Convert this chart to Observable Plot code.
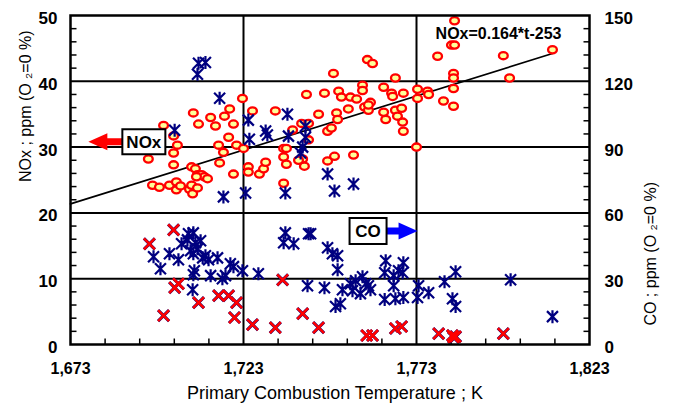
<!DOCTYPE html>
<html><head><meta charset="utf-8">
<script src="https://cdn.jsdelivr.net/npm/d3@7"></script>
<script src="https://cdn.jsdelivr.net/npm/@observablehq/plot@0.6"></script>
<style>
html,body{margin:0;padding:0;background:#fff;}
#chart svg{display:block;}
</style></head><body><div id="chart"></div>
<script>
// NOx measurements (ppm, left axis)
const noxT = [1699.9,1695.5,1702.8,1703.9,1702.8,1702.8,1696.7,1698.7,1701.6,1703.6,1703.6,1704.8,1707.4,1708.0,1708.3,1709.7,1708.5,1710.0,1708.0,1709.1,1709.7,1710.9,1711.7,1712.6,1709.4,1713.5,1714.9,1717.5,1719.0,1720.1,1718.7,1715.8,1717.2,1716.1,1720.1,1721.0,1722.7,1725.6,1723.0,1724.4,1724.4,1727.6,1728.8,1729.4,1732.2,1734.6,1735.4,1734.6,1735.4,1734.6,1737.2,1739.8,1741.8,1741.2,1740.1,1740.6,1741.8,1744.7,1746.4,1747.3,1748.4,1747.3,1749.3,1749.0,1749.9,1750.2,1750.5,1751.3,1753.9,1755.7,1753.3,1754.8,1757.4,1757.4,1758.8,1760.3,1758.0,1759.7,1759.1,1759.1,1763.5,1763.5,1764.1,1765.8,1766.1,1766.9,1769.2,1766.9,1767.5,1768.7,1769.0,1769.2,1773.0,1773.3,1773.3,1776.2,1776.5,1779.1,1780.8,1783.1,1784.0,1784.0,1783.7,1783.7,1783.7,1783.7,1798.1,1799.9,1812.3,1738.9];
const noxPpm = [33.3,28.2,31.7,30.3,29.1,27.3,24.2,23.9,24.2,24.7,23.5,24.1,23.6,24.2,22.9,23.8,35.2,33.5,27.0,26.7,25.8,25.8,25.5,25.2,25.5,34.5,33.2,34.7,35.8,33.5,31.5,30.3,29.2,27.6,25.9,30.3,37.4,35.5,29.8,27.0,26.2,25.9,26.7,27.7,35.5,29.8,29.8,28.5,27.4,24.5,32.6,33.6,33.6,38.0,28.2,27.1,31.1,35.0,38.2,32.4,32.9,27.9,28.6,41.2,35.2,34.2,38.5,37.6,37.6,37.3,35.8,28.8,39.4,38.6,43.3,42.7,36.1,36.8,35.6,36.4,39.1,35.3,34.2,38.2,37.7,40.5,38.2,35.6,34.7,35.9,33.8,32.4,30.0,38.8,37.4,38.5,38.0,43.8,37.0,45.5,45.5,49.2,41.2,40.5,38.9,36.2,43.9,40.5,44.8,28.0];

// CO measurements (ppm, right axis)
const coT = [1710.0,1712.0,1709.7,1716.1,1703.1,1724.4,1724.7,1729.4,1729.9,1735.7,1736.0,1740.9,1740.9,1740.1,1739.5,1747.3,1749.3,1754.8,1717.2,1723.6,1735.1,
  1697.0,1699.0,1701.6,1704.2,1705.1,1707.1,1706.8,1708.5,1709.1,1710.6,1707.7,1708.5,1709.7,1711.2,1712.0,1712.9,1708.8,1708.5,1715.5,1713.5,1716.9,1717.8,1719.2,1720.1,1722.7,1727.3,1708.3,
  1735.1,1734.6,1737.5,1741.8,1742.4,1741.5,1746.4,1747.3,1748.7,1750.2,1750.2,1751.6,1749.6,1751.0,1753.9,1754.5,1755.4,1757.4,1756.8,1758.3,1759.1,1759.7,
  1764.1,1763.8,1763.8,1769.2,1767.8,1769.0,1766.4,1766.4,1766.9,1769.2,1773.6,1773.3,1776.5,1781.1,1784.3,1783.4,1784.3,1800.2,1812.3];
const coPpm = [128.2,128.6,123.2,112.3,97.7,102.3,93.6,97.3,95.5,105.0,95.0,99.5,94.5,90.0,87.3,77.7,70.0,73.2,67.3,69.1,69.1,
  40.0,34.5,41.4,38.6,45.9,50.5,47.7,50.9,46.4,47.3,42.7,41.4,43.6,39.5,40.5,38.6,33.6,31.8,39.5,31.4,30.0,31.4,36.8,35.5,33.6,32.3,25.0,
  50.9,46.4,45.9,50.5,50.5,26.8,25.9,44.1,41.4,40.5,34.1,25.0,17.3,18.6,27.7,24.5,29.1,30.9,23.2,27.7,26.8,25.0,
  38.2,32.7,20.5,37.3,33.6,32.7,31.4,26.8,20.9,21.4,26.8,21.4,23.6,28.6,33.2,20.9,17.3,29.5,12.7];
// CO measurements shown with red crosses
const coRedT = [1695.8,1702.8,1703.1,1704.2,1710.0,1699.9,1715.8,1718.7,1721.0,1720.4,1725.6,1734.3,1740.1,1732.2,1744.7,1758.6,1760.3,1766.9,1768.7,1779.4,1783.4,1784.3,1783.7,1798.1];
const coRedPpm = [45.9,52.3,25.9,27.7,19.1,13.2,22.3,22.3,19.1,12.3,9.1,29.5,14.1,7.7,7.7,4.1,4.1,7.3,8.2,5.0,4.1,3.6,3.2,5.0];

// Regression line NOx = 0.164*t - 253
const fitSlope = 0.164, fitIntercept = -253;
const fitT = [1673, 1812.3];

// Axis ticks
const xTicks = [1673, 1723, 1773, 1823];
const xMinor = [1683,1693,1703,1713,1733,1743,1753,1763,1783,1793,1803,1813];
const noxTicks = [0, 10, 20, 30, 40, 50];
const coTicks = [0, 30, 60, 90, 120, 150];
const yMinor = [2,4,6,8,12,14,16,18,22,24,26,28,32,34,36,38,42,44,46,48];
const gridNox = [10, 20, 30, 40];
const gridT = [1723, 1773];

// Annotations
const xTitle = "Primary Combustion Temperature ; K";
const leftTitle = "NOx ; ppm (O \u2082=0 %)";
const rightTitle = "CO ; ppm (O \u2082=0 %)";
const eqTag = {label: "NOx=0.164*t-253", t: 1796.7, n: 47.2};
const noxTag = {label: "NOx", t: 1694.2, n: 30.8};
const coTag = {label: "CO", t: 1759.0, co: 51.8};

const nox = noxT.map((t, i) => ({t, n: noxPpm[i]}));
const co = coT.map((t, i) => ({t, co: coPpm[i]}));
const coRed = coRedT.map((t, i) => ({t, co: coRedPpm[i]}));
const fit = fitT.map(t => ({t, n: fitSlope * t + fitIntercept}));

// custom symbols
function ellipseSym(rx, ry) {
  const k = 0.5523;
  return {draw(c) {
    c.moveTo(rx, 0);
    c.bezierCurveTo(rx, ry * k, rx * k, ry, 0, ry);
    c.bezierCurveTo(-rx * k, ry, -rx, ry * k, -rx, 0);
    c.bezierCurveTo(-rx, -ry * k, -rx * k, -ry, 0, -ry);
    c.bezierCurveTo(rx * k, -ry, rx, -ry * k, rx, 0);
    c.closePath();
  }};
}
const asterSym = {draw(c) {
  c.moveTo(-5.5, -5.5); c.lineTo(5.5, 5.5);
  c.moveTo(5.5, -5.5); c.lineTo(-5.5, 5.5);
  c.moveTo(0, -6.5); c.lineTo(0, 6.5);
}};
const xSym = {draw(c) {
  c.moveTo(-5.5, -5.5); c.lineTo(5.5, 5.5);
  c.moveTo(5.5, -5.5); c.lineTo(-5.5, 5.5);
}};
function hTick(len) { return {draw(c) { c.moveTo(0, 0); c.lineTo(len, 0); }}; }
function vTick(len) { return {draw(c) { c.moveTo(0, 0); c.lineTo(0, len); }}; }
function rectSym(w, h) { return {draw(c) { c.rect(-w / 2, -h / 2, w, h); }}; }
function arrowSym(s, tip) {
  const d = Math.sign(tip - s), hl = 19, hh = 8.5, st = 3.5, b = tip - d * hl;
  return {draw(c) {
    c.moveTo(s, -st); c.lineTo(b, -st); c.lineTo(b, -hh); c.lineTo(tip, 0);
    c.lineTo(b, hh); c.lineTo(b, st); c.lineTo(s, st); c.closePath();
  }};
}

const bold = {fontWeight: "bold", fill: "black"};

const chart = Plot.plot({
  width: 673, height: 412,
  marginLeft: 70, marginRight: 84, marginTop: 15, marginBottom: 68,
  x: {domain: [1673, 1823], axis: null},
  y: {domain: [0, 50], axis: null},
  style: {fontFamily: "Arial, 'Liberation Sans', sans-serif", background: "white", color: "black"},
  marks: [
    Plot.ruleY(gridNox, {stroke: "black", strokeWidth: 2}),
    Plot.ruleX(gridT, {stroke: "black", strokeWidth: 2}),
    Plot.dot(yMinor, {y: d => d, frameAnchor: "left", symbol: hTick(6), stroke: "black", strokeWidth: 1.5, fill: "none"}),
    Plot.dot(yMinor, {y: d => d, frameAnchor: "right", symbol: hTick(-6), stroke: "black", strokeWidth: 1.5, fill: "none"}),
    Plot.dot(xMinor, {x: d => d, frameAnchor: "bottom", symbol: vTick(-6), stroke: "black", strokeWidth: 1.5, fill: "none"}),
    Plot.line(fit, {x: "t", y: "n", stroke: "black", strokeWidth: 1.7}),
    Plot.dot(nox, {x: "t", y: "n", symbol: ellipseSym(4.4, 3.6), fill: "#ffff99", stroke: "#ff0000", strokeWidth: 2.3}),
    Plot.dot(co, {x: "t", y: d => d.co / 3, symbol: asterSym, fill: "none", stroke: "#000080", strokeWidth: 2.2}),
    Plot.dot(coRed, {x: "t", y: d => d.co / 3, symbol: xSym, fill: "none", stroke: "#000080", strokeWidth: 3.1}),
    Plot.dot(coRed, {x: "t", y: d => d.co / 3, symbol: xSym, fill: "none", stroke: "#ff0000", strokeWidth: 2.5}),
    Plot.frame({stroke: "black", strokeWidth: 2.5}),
    // tick labels
    Plot.text(noxTicks, {y: d => d, text: d => String(d), frameAnchor: "left", textAnchor: "end", dx: -13, dy: 3, fontSize: 17, ...bold}),
    Plot.text(coTicks, {y: d => d / 3, text: d => String(d), frameAnchor: "right", textAnchor: "start", dx: 15, dy: 3, fontSize: 17, ...bold}),
    Plot.text(xTicks, {x: d => d, text: d => d3.format(",")(d), frameAnchor: "bottom", dy: 29, fontSize: 16, ...bold}),
    // axis titles
    Plot.text([xTitle], {text: d => d, frameAnchor: "bottom", dy: 54, dx: 5, fontSize: 18, fill: "black"}),
    Plot.text([leftTitle], {text: d => d, frameAnchor: "left", rotate: -90, dx: -45, dy: 2, fontSize: 16, fill: "black"}),
    Plot.text([rightTitle], {text: d => d, frameAnchor: "right", rotate: -90, dx: 61, dy: 2, fontSize: 16, fill: "black"}),
    // equation
    Plot.text([eqTag], {x: "t", y: "n", text: "label", fontSize: 16, ...bold}),
    // NOx tag
    Plot.dot([noxTag], {x: "t", y: "n", symbol: arrowSym(-21, -55.5), fill: "#ff0000", stroke: "none"}),
    Plot.dot([noxTag], {x: "t", y: "n", symbol: rectSym(43, 25), fill: "white", stroke: "black", strokeWidth: 2}),
    Plot.text([noxTag], {x: "t", y: "n", text: "label", fontSize: 17, dy: 1, ...bold}),
    // CO tag
    Plot.dot([coTag], {x: "t", y: d => d.co / 3, symbol: arrowSym(18, 49.5), fill: "#0000ff", stroke: "none"}),
    Plot.dot([coTag], {x: "t", y: d => d.co / 3, symbol: rectSym(37, 26), fill: "white", stroke: "black", strokeWidth: 2}),
    Plot.text([coTag], {x: "t", y: d => d.co / 3, text: "label", fontSize: 17, dy: 1, letterSpacing: "1px", ...bold})
  ]
});
document.getElementById("chart").appendChild(chart);
</script>
</body></html>
